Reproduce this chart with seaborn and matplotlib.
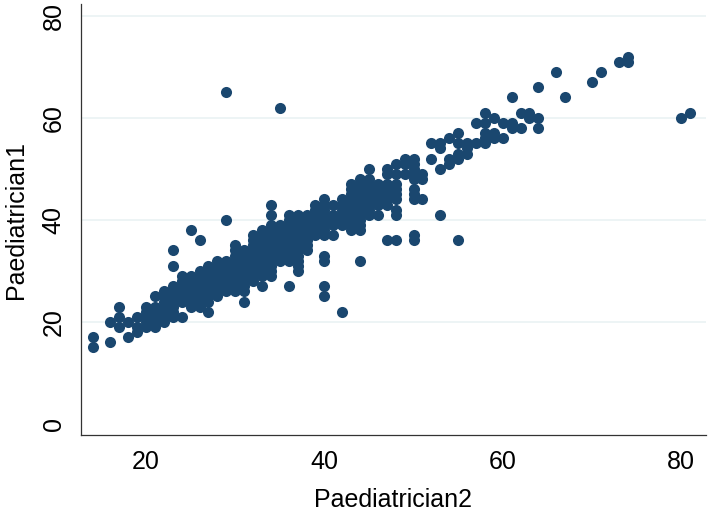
import pandas as pd
import matplotlib
matplotlib.use('Agg')
import matplotlib.pyplot as plt
import seaborn as sns

# ratings, one row per Paediatrician2 value
paed2 = (
    [14] * 2 + [16] * 2 + [17] * 3 + [18] * 2 + [19] * 3 + [20] * 5 + [21] * 6
    + [22] * 7 + [23] * 9 + [24] * 7 + [25] * 8 + [26] * 9 + [27] * 9 + [28] * 8
    + [29] * 9 + [30] * 10 + [31] * 10 + [32] * 10 + [33] * 11 + [34] * 13
    + [35] * 9 + [36] * 11 + [37] * 12 + [38] * 8 + [39] * 7 + [40] * 12
    + [41] * 5 + [42] * 7 + [43] * 10 + [44] * 12 + [45] * 9 + [46] * 6
    + [47] * 8 + [48] * 9 + [49] * 3 + [50] * 10 + [51] * 3 + [52] * 2
    + [53] * 4 + [54] * 3 + [55] * 5 + [56] * 3 + [57] * 2 + [58] * 5
    + [59] * 3 + [60] * 2 + [61] * 3 + [62] * 2 + [63] * 2 + [64] * 3
    + [66, 67, 70, 71, 73, 74, 74, 80, 81]
)

paed1 = [
    15, 17,
    16, 20,
    19, 21, 23,
    17, 20,
    18, 19, 21,
    19, 20, 21, 22, 23,
    19, 20, 21, 22, 23, 25,
    20, 21, 22, 23, 24, 25, 26,
    21, 22, 23, 24, 25, 26, 27, 31, 34,
    21, 24, 25, 26, 27, 28, 29,
    23, 24, 25, 26, 27, 28, 29, 38,
    23, 24, 25, 26, 27, 28, 29, 30, 36,
    22, 24, 25, 26, 27, 28, 29, 30, 31,
    25, 26, 27, 28, 29, 30, 31, 32,
    26, 27, 28, 29, 30, 31, 32, 40, 65,
    26, 27, 28, 29, 30, 31, 32, 33, 34, 35,
    24, 26, 27, 28, 29, 30, 31, 32, 33, 34,
    28, 29, 30, 31, 32, 33, 34, 35, 36, 37,
    27, 29, 30, 31, 32, 33, 34, 35, 36, 37, 38,
    29, 30, 31, 32, 33, 34, 35, 36, 37, 38, 39, 41, 43,
    32, 33, 34, 35, 36, 37, 38, 39, 62,
    27, 32, 33, 34, 35, 36, 37, 38, 39, 40, 41,
    30, 31, 32, 33, 34, 35, 36, 37, 38, 39, 40, 41,
    34, 35, 36, 37, 38, 39, 40, 41,
    37, 38, 39, 40, 41, 42, 43,
    25, 27, 32, 33, 37, 38, 39, 40, 41, 42, 43, 44,
    37, 39, 40, 41, 43,
    22, 39, 40, 41, 42, 43, 44,
    38, 39, 40, 41, 42, 43, 44, 45, 46, 47,
    32, 38, 39, 40, 41, 42, 43, 44, 45, 46, 47, 48,
    41, 42, 43, 44, 45, 46, 47, 48, 50,
    41, 43, 44, 45, 46, 47,
    36, 43, 44, 45, 46, 47, 49, 50,
    36, 41, 42, 44, 45, 46, 47, 49, 51,
    49, 51, 52,
    36, 37, 44, 45, 46, 48, 49, 50, 51, 52,
    44, 48, 49,
    52, 55,
    41, 50, 54, 55,
    51, 52, 56,
    36, 52, 53, 55, 57,
    53, 54, 55,
    55, 59,
    55, 56, 57, 59, 61,
    56, 57, 60,
    56, 59,
    58, 59, 64,
    58, 61,
    60, 61,
    58, 60, 66,
    69, 64, 67, 69, 71, 71, 72, 60, 61,
]

y_ticks = [0, 20, 40, 60, 80]
x_ticks = [20, 40, 60, 80]

data = pd.DataFrame({'Paediatrician2': paed2, 'Paediatrician1': paed1})

sns.set_style('white')
plt.rcParams['font.family'] = ['Liberation Sans', 'DejaVu Sans']

fig = plt.figure(figsize=(7.09, 5.14), dpi=100)
ax = fig.add_axes([0.1142, 0.1537, 0.9958 - 0.1142, 0.9922 - 0.1537])

for t in y_ticks[1:]:
    ax.axhline(t, color='#e8f1f2', linewidth=1.1, zorder=0)

sns.scatterplot(
    data=data,
    x='Paediatrician2',
    y='Paediatrician1',
    color='#1a476f',
    s=64,
    linewidth=0,
    ax=ax,
    zorder=3
)

ax.set_xlim(12.7, 82.8)
ax.set_ylim(-2.16, 82.3)
ax.set_xticks(x_ticks)
ax.set_yticks(y_ticks)
ax.tick_params(axis='both', direction='out', length=5, width=0.8,
               color='#333333', labelcolor='black', labelsize=18, pad=6)
for lab in ax.get_yticklabels():
    lab.set_rotation(90)
    lab.set_va('center')

for side in ['top', 'right']:
    ax.spines[side].set_visible(False)
for side in ['left', 'bottom']:
    ax.spines[side].set_color('#333333')
    ax.spines[side].set_linewidth(0.9)

ax.set_xlabel('Paediatrician2', fontsize=18, labelpad=10, color='black')
ax.set_ylabel('Paediatrician1', fontsize=18, labelpad=10, color='black')

fig.savefig('out.png', dpi=100)
